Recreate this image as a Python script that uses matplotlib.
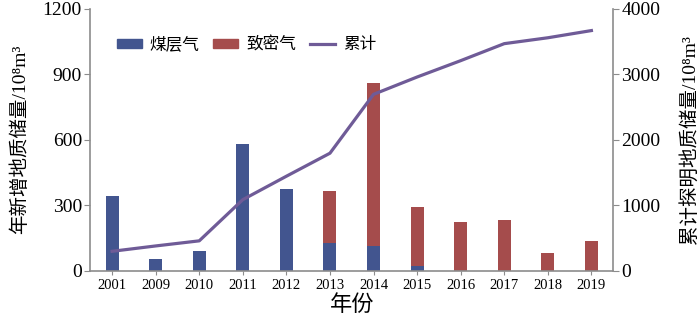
import numpy as np
import matplotlib
matplotlib.use("Agg")
import matplotlib.pyplot as plt
from matplotlib.patches import Patch
from matplotlib.lines import Line2D

plt.rcParams['font.family'] = ['Liberation Serif', 'DejaVu Serif', 'Noto Sans CJK SC']

# data
years = ['2001', '2009', '2010', '2011', '2012', '2013', '2014',
         '2015', '2016', '2017', '2018', '2019']
cbm = [344, 52, 90, 580, 376, 128, 112, 21, 0, 0, 0, 0]          # 煤层气
tight = [0, 0, 0, 0, 0, 239, 748, 269, 224, 233, 81, 136]        # 致密气
cumulative = [295, 377, 455, 1085, 1443, 1795, 2695, 2960, 3210, 3470, 3560, 3670]  # 累计

blue = '#42558f'
red = '#a54c4c'
purple = '#6f5b97'
gray = '#8c8c8c'

fig = plt.figure(figsize=(7.0, 3.21), dpi=100)
ax = fig.add_axes([0.129, 0.157, 0.747, 0.815])
x = np.arange(len(years))
w = 0.3

ax.bar(x, cbm, width=w, color=blue, zorder=2)
ax.bar(x, tight, width=w, bottom=cbm, color=red, zorder=2)
ax.set_xlim(-0.5, len(years) - 0.5)
ax.set_ylim(0, 1200)
ax.set_yticks([0, 300, 600, 900, 1200])
ax.set_xticks(x)
ax.set_xticklabels(years, fontsize=10.5)
ax.tick_params(axis='y', labelsize=14, length=4, color=gray, pad=2)
ax.tick_params(axis='x', length=3, color=gray, pad=3)
ax.set_ylabel('年新增地质储量/10⁸m³', fontsize=14, labelpad=10)
ax.set_xlabel('年份', fontsize=16, labelpad=2)
for s in ['top', 'right']:
    ax.spines[s].set_visible(False)
for s in ['left', 'bottom']:
    ax.spines[s].set_color(gray)
    ax.spines[s].set_linewidth(1.2)

ax2 = ax.twinx()
ax2.plot(x, cumulative, color=purple, linewidth=2.3, zorder=3)
ax2.set_ylim(0, 4000)
ax2.set_yticks([0, 1000, 2000, 3000, 4000])
ax2.tick_params(axis='y', labelsize=14, length=4, color=gray, pad=2)
ax2.set_ylabel('累计探明地质储量/10⁸m³', fontsize=14, labelpad=14)
for s in ['top', 'left', 'bottom']:
    ax2.spines[s].set_visible(False)
ax2.spines['right'].set_color(gray)
ax2.spines['right'].set_linewidth(1.2)

handles = [Patch(color=blue), Patch(color=red), Line2D([], [], color=purple, linewidth=2.3)]
ax2.legend(handles, ['煤层气', '致密气', '累计'], ncol=3, frameon=False,
           loc='upper left', bbox_to_anchor=(0.145, 0.93), bbox_transform=fig.transFigure,
           fontsize=12, handlelength=1.5, handleheight=0.4, handletextpad=0.5,
           columnspacing=0.8)

fig.savefig('out.png', dpi=100)
